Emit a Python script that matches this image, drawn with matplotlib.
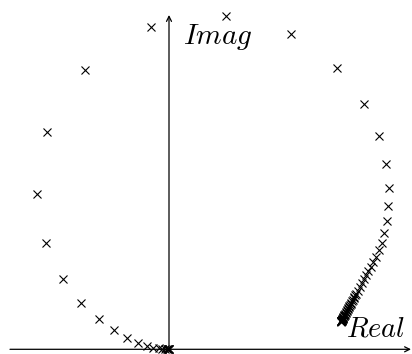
import matplotlib
matplotlib.use("Agg")
import matplotlib.pyplot as plt

plt.rcParams['mathtext.fontset'] = 'cm'

# sampled points of the locus, from the right-hand cluster round to the origin
real = [1.720, 1.7205, 1.721, 1.722, 1.723, 1.724, 1.725, 1.726, 1.728, 1.729,
        1.731, 1.733, 1.735, 1.737, 1.739, 1.742, 1.744, 1.748, 1.751, 1.754,
        1.758, 1.762, 1.766, 1.770, 1.775, 1.780, 1.785, 1.791, 1.797, 1.803,
        1.809, 1.816, 1.823, 1.830, 1.837, 1.845, 1.853, 1.861, 1.870,
        1.888, 1.906, 1.926, 1.948, 1.970, 1.993, 2.017, 2.043, 2.070, 2.104,
        2.133, 2.153, 2.177, 2.193, 2.200, 2.167, 2.097, 1.953, 1.680, 1.220,
        0.570, -0.183, -0.840, -1.217, -1.317, -1.227, -1.063, -0.880, -0.700,
        -0.547, -0.420, -0.310, -0.223, -0.157, -0.105, -0.067, -0.042, -0.025,
        -0.015, -0.009, -0.005, -0.002, 0.000]
imag = [0.278, 0.279, 0.280, 0.2815, 0.283, 0.285, 0.287, 0.2895, 0.292, 0.295,
        0.298, 0.3015, 0.305, 0.309, 0.313, 0.318, 0.323, 0.329, 0.335, 0.3415,
        0.348, 0.3555, 0.363, 0.3715, 0.380, 0.3895, 0.399, 0.4095, 0.420, 0.4315,
        0.443, 0.4555, 0.468, 0.4815, 0.495, 0.5095, 0.524, 0.5395, 0.555,
        0.588, 0.623, 0.660, 0.699, 0.740, 0.783, 0.828, 0.876, 0.926, 0.990,
        1.060, 1.160, 1.283, 1.436, 1.616, 1.850, 2.133, 2.453, 2.813, 3.150,
        3.336, 3.226, 2.793, 2.170, 1.556, 1.066, 0.706, 0.463, 0.300,
        0.190, 0.110, 0.063, 0.033, 0.018, 0.009, 0.004, 0.002, 0.001,
        0.0005, 0.0003, 0.0001, 0.0, 0.0]

fig = plt.figure(figsize=(4.12, 3.54), dpi=100)
ax = fig.add_axes([0, 0, 1, 1])
ax.set_xlim(-1.69, 2.43)
ax.set_ylim(-0.047, 3.493)
ax.axis('off')

arrow = dict(arrowstyle='->', lw=0.9, color='black', mutation_scale=9,
             shrinkA=0, shrinkB=0)
ax.annotate('', xy=(2.42, 0), xytext=(-1.59, 0), arrowprops=arrow)
ax.annotate('', xy=(0, 3.343), xytext=(0, 0), arrowprops=arrow)

ax.plot(real, imag, linestyle='none', marker='x', markersize=5.5,
        markeredgewidth=0.8, color='black')

ax.text(0.14, 3.05, r'$Imag$', fontsize=21, va='baseline', ha='left')
ax.text(1.765, 0.126, r'$Real$', fontsize=20.5, va='baseline', ha='left')

fig.savefig('out.png', dpi=100)
